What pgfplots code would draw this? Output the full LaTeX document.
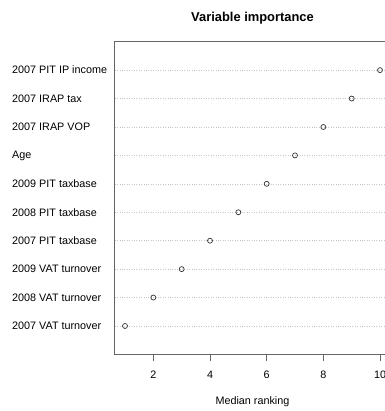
\documentclass[border=0pt]{standalone}
\usepackage{fontspec}
\setmainfont{Liberation Sans}
\usepackage{pgfplots}
\pgfplotsset{compat=1.18}
\begin{document}
\fontsize{10.8}{13}\selectfont
\begin{tikzpicture}[x=1pt,y=1pt]
\begin{axis}[
  at={(114.8pt,-41.7pt)}, anchor=north west,
  scale only axis, width=275.4pt, height=312.7pt,
  xmin=0.64, xmax=10.36, ymin=0, ymax=11,
  axis line style={draw=black!60, line width=0.8pt},
  xtick={2,4,6,8,10},
  ytick={1,2,3,4,5,6,7,8,9,10},
  yticklabels={2007 VAT turnover,2008 VAT turnover,2009 VAT turnover,2007 PIT taxbase,2008 PIT taxbase,2009 PIT taxbase,Age,2007 IRAP VOP,2007 IRAP tax,2007 PIT IP income},
  ytick style={draw=none},
  xtick style={draw=black!60, line width=0.8pt},
  tick align=outside, xtick pos=bottom, ytick pos=left,
  major tick length=7pt,
  /pgf/number format/assume math mode=true,
  ymajorgrids, major grid style={draw=black!22, dotted, line width=0.6pt},
  yticklabel style={anchor=west, xshift=-95.8pt, inner sep=0pt},
  xticklabel style={inner sep=0pt, anchor=center, yshift=-13pt},
  title={Variable importance},
  title style={font=\bfseries\fontsize{12.9}{15}\selectfont, at={(0.5,1)}, anchor=center, yshift=18pt},
  xlabel={Median ranking},
  xlabel style={at={(0.5,0)}, anchor=center, yshift=-47pt},
]
\addplot[only marks, mark=o, mark size=2.5pt, draw=black!80, mark options={line width=0.7pt}] table {
x y
1 1
2 2
3 3
4 4
5 5
6 6
7 7
8 8
9 9
10 10
};
\end{axis}
\pgfresetboundingbox
\path[use as bounding box] (0,0) rectangle (384,-411);
\end{tikzpicture}
\end{document}
